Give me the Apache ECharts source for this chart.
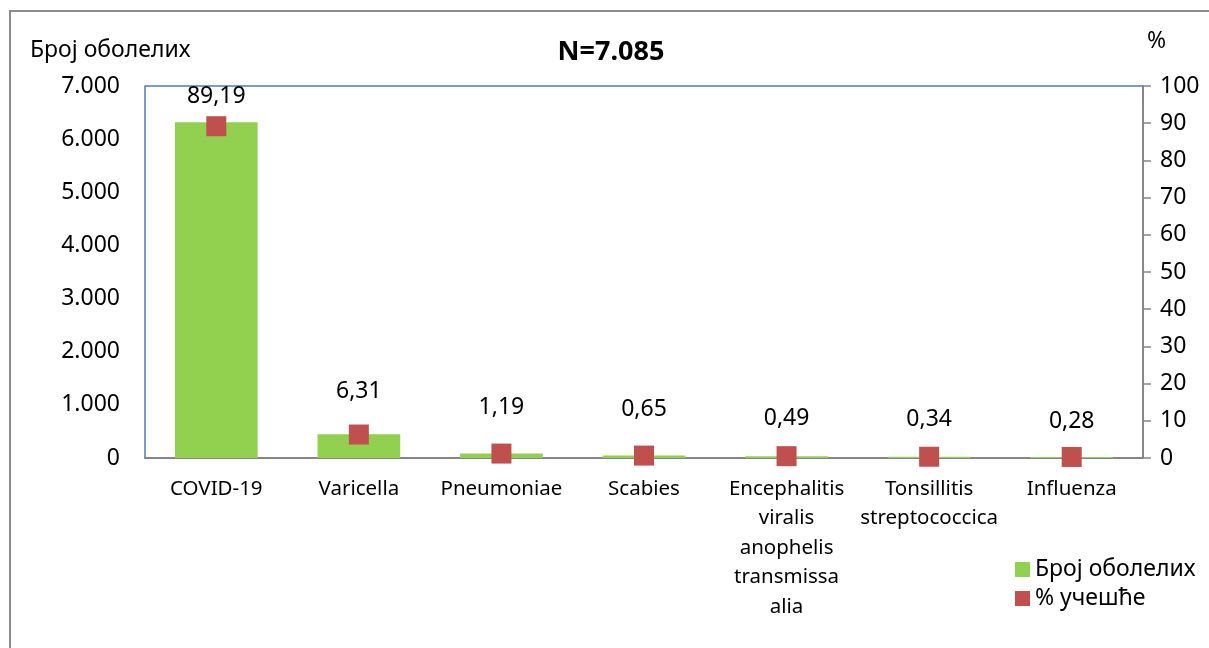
<!DOCTYPE html>
<html>
<head>
<meta charset="utf-8">
<script src="https://cdn.jsdelivr.net/npm/echarts@6/dist/echarts.min.js"></script>
<style>
html,body{margin:0;padding:0;background:#fff;}
#chart{width:1209px;height:648px;}
</style>
</head>
<body>
<div id="chart"></div>
<script>
const categories = ['COVID-19', 'Varicella', 'Pneumoniae', 'Scabies', 'Encephalitis\nviralis\nanophelis\ntransmissa\nalia', 'Tonsillitis\nstreptococcica', 'Influenza'];
const counts = [6319, 447, 84, 46, 35, 24, 20];
const percents = [89.19, 6.31, 1.19, 0.65, 0.49, 0.34, 0.28];
const titleText = 'N=7.085';
const leftAxisName = 'Број оболелих';
const rightAxisName = '%';
const seriesNames = ['Број оболелих', '% учешће'];

const FONT = '"Noto Sans", "Open Sans", sans-serif';
const labelGaps = [8, 22, 25, 25, 16, 16, 14];

const chart = echarts.init(document.getElementById('chart'), null, {renderer: 'canvas'});
const option = {
  backgroundColor: '#fff',
  animation: false,
  textStyle: {fontFamily: FONT, color: '#000'},
  grid: {left: 145, right: 66, top: 86, bottom: 190, show: true, borderColor: '#4a7ebb', borderWidth: 1.5, backgroundColor: 'transparent'},
  legend: {
    orient: 'vertical', left: 1015, top: 558, padding: 0, itemWidth: 15, itemHeight: 15, itemGap: 6, itemStyle: {opacity: 1},
    textStyle: {fontFamily: FONT, fontSize: 23, color: '#000'},
    data: [{name: seriesNames[0], icon: 'rect'}, {name: seriesNames[1], icon: 'rect'}]
  },
  xAxis: {
    type: 'category', data: categories,
    axisLine: {lineStyle: {color: '#868686', width: 2}},
    axisTick: {show: false},
    axisLabel: {interval: 0, margin: 16, fontFamily: FONT, fontSize: 20.5, lineHeight: 29.5, color: '#000'}
  },
  yAxis: [{
    type: 'value', min: 0, max: 7000, interval: 1000,
    axisLine: {show: false}, axisTick: {show: false}, splitLine: {show: false},
    axisLabel: {margin: 25, fontFamily: FONT, fontSize: 23, color: '#000',
      formatter: v => v === 0 ? '0' : String(v).replace(/\B(?=(\d{3})+(?!\d))/g, '.')}
  }, {
    type: 'value', min: 0, max: 100, interval: 10, position: 'right',
    axisLine: {show: true, lineStyle: {color: '#868686', width: 2}},
    axisTick: {show: true, length: 8, lineStyle: {color: '#868686', width: 1.5}},
    splitLine: {show: false},
    axisLabel: {margin: 17, fontFamily: FONT, fontSize: 23, color: '#000'}
  }],
  series: [{
    name: seriesNames[0], type: 'bar', data: counts, barWidth: '58%', yAxisIndex: 0,
    itemStyle: {color: '#92d050'}
  }, {
    name: seriesNames[1], type: 'scatter', yAxisIndex: 1, symbol: 'rect', symbolSize: 20,
    itemStyle: {color: '#c0504d', opacity: 1},
    data: percents.map((v, i) => ({
      value: v,
      label: {show: true, position: 'top', distance: labelGaps[i], fontFamily: FONT, fontSize: 23, color: '#000',
        formatter: p => p.value.toFixed(2).replace('.', ',')}
    })),
    z: 5
  }],
  graphic: [
    {type: 'rect', shape: {x: 10, y: 11, width: 1300, height: 700}, style: {fill: 'none', stroke: '#8c8c8c', lineWidth: 2}, silent: true},
    {type: 'text', x: 611, y: 52, style: {text: titleText, font: 'bold 27px ' + FONT, fill: '#000', align: 'center', verticalAlign: 'middle'}},
    {type: 'text', x: 30, y: 50, style: {text: leftAxisName, font: '23px ' + FONT, fill: '#000', align: 'left', verticalAlign: 'middle'}},
    {type: 'text', x: 1147, y: 41, style: {text: rightAxisName, font: '23px ' + FONT, fill: '#000', align: 'left', verticalAlign: 'middle'}}
  ]
};
chart.setOption(option);
</script>
</body>
</html>
